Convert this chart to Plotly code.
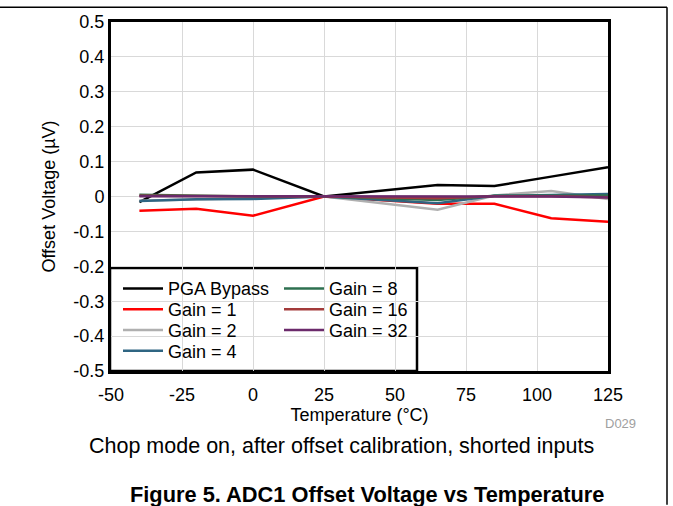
import plotly.graph_objects as go

W, H = 673, 506
L, R, T, B = 111, 608, 19, 371

temps = [-40, -20, 0, 25, 65, 85, 105, 125]
pga_bypass = [-0.016, 0.069, 0.077, 0.0, 0.033, 0.030, 0.057, 0.084]
gain1 = [-0.041, -0.035, -0.055, 0.0, -0.021, -0.021, -0.062, -0.072]
gain2 = [-0.012, -0.008, -0.005, 0.0, -0.038, 0.003, 0.016, -0.007]
gain4 = [-0.013, -0.008, -0.007, 0.0, -0.019, 0.002, 0.004, 0.007]
gain8 = [0.005, 0.003, 0.0, 0.0, -0.010, 0.002, 0.003, 0.003]
gain16 = [0.002, 0.001, 0.0, 0.0, -0.005, 0.001, 0.001, -0.002]
gain32 = [0.001, 0.001, 0.0, 0.0, 0.002, 0.001, 0.0, -0.003]

names = ["PGA Bypass", "Gain = 1", "Gain = 2", "Gain = 4", "Gain = 8", "Gain = 16", "Gain = 32"]
series = [pga_bypass, gain1, gain2, gain4, gain8, gain16, gain32]
colors = ["#000000", "#ff0000", "#b0b0b0", "#2f6582", "#2e7050", "#a33b3b", "#6b2a6b"]
# legend rows: row1 PGA/Gain8, row2 Gain1/Gain16, row3 Gain2/Gain32, row4 Gain4
legend_ids = ["legend", "legend2", "legend3", "legend4", "legend", "legend2", "legend3"]

yticks = [0.5, 0.4, 0.3, 0.2, 0.1, 0, -0.1, -0.2, -0.3, -0.4, -0.5]
yticktext = ["0.5", "0.4", "0.3", "0.2", "0.1", "0", "-0.1", "-0.2", "-0.3", "-0.4", "-0.5"]
xticks = [-50, -25, 0, 25, 50, 75, 100, 125]
xticktext = ["-50", "-25", "0", "25", "50", "75", "100", "125"]

FONT = "Liberation Sans, Arial, sans-serif"
FS = 18

fig = go.Figure()
for n, s, c, lg in zip(names, series, colors, legend_ids):
    fig.add_trace(go.Scatter(x=temps, y=s, mode="lines", name=n,
                             line=dict(color=c, width=2.5), legend=lg))


def px_x(p):
    return (p - L) / (R - L)


def px_y(p):
    return (B - p) / (B - T)


def leg(row_center):
    return dict(bgcolor="rgba(0,0,0,0)", borderwidth=0,
                font=dict(family=FONT, size=FS, color="black"),
                orientation="h", entrywidth=106, entrywidthmode="pixels",
                x=px_x(118), y=px_y(row_center), xanchor="left", yanchor="middle",
                itemwidth=40)


fig.update_layout(
    width=W, height=H,
    margin=dict(l=L, r=W - R, t=T, b=H - B),
    paper_bgcolor="white", plot_bgcolor="white",
    font=dict(family=FONT, size=FS, color="black"),
    showlegend=True,
    legend=leg(288),
    legend2=leg(309),
    legend3=leg(330),
    legend4=leg(351),
    xaxis=dict(range=[-50, 125], tickvals=xticks, ticktext=xticktext,
               showgrid=True, gridcolor="#d9d9d9", gridwidth=1,
               showline=True, linecolor="black", linewidth=3, mirror=True,
               zeroline=False, ticks="", tickfont=dict(size=FS), ticklabelstandoff=5,
               title=dict(text="Temperature (\u00b0C)", font=dict(size=FS), standoff=0)),
    yaxis=dict(range=[-0.5, 0.5], tickvals=yticks, ticktext=yticktext,
               showgrid=True, gridcolor="#d9d9d9", gridwidth=1,
               showline=True, linecolor="black", linewidth=3, mirror=True,
               zeroline=False, ticks="", tickfont=dict(size=FS),
               title=dict(text="Offset Voltage (\u00b5V)", font=dict(size=FS), standoff=14)),
    shapes=[
        dict(type="rect", xref="paper", yref="paper",
             x0=px_x(110), x1=px_x(417), y0=px_y(371), y1=px_y(267),
             line=dict(color="black", width=2.5), fillcolor="white", layer="between"),
        dict(type="line", xref="paper", yref="paper",
             x0=px_x(0), x1=px_x(667), y0=px_y(4), y1=px_y(4),
             line=dict(color="black", width=1.5)),
        dict(type="line", xref="paper", yref="paper",
             x0=px_x(667), x1=px_x(667), y0=px_y(4), y1=px_y(506),
             line=dict(color="black", width=1.5)),
    ],
    annotations=[
        dict(text="D029", xref="paper", yref="paper", x=px_x(620), y=px_y(424),
             showarrow=False, font=dict(size=13, color="#a0a0a0"),
             xanchor="center", yanchor="middle"),
        dict(text="Chop mode on, after offset calibration, shorted inputs",
             xref="paper", yref="paper", x=px_x(341), y=px_y(447),
             showarrow=False, font=dict(size=21.5, color="black"),
             xanchor="center", yanchor="middle"),
        dict(text="<b>Figure 5. ADC1 Offset Voltage vs Temperature</b>",
             xref="paper", yref="paper", x=px_x(367), y=px_y(496),
             showarrow=False, font=dict(size=21.8, color="black"),
             xanchor="center", yanchor="middle"),
    ],
)

fig.write_html("out.html", config={"displayModeBar": False},
               post_script="document.body.style.margin='0';document.body.style.overflow='hidden';")
